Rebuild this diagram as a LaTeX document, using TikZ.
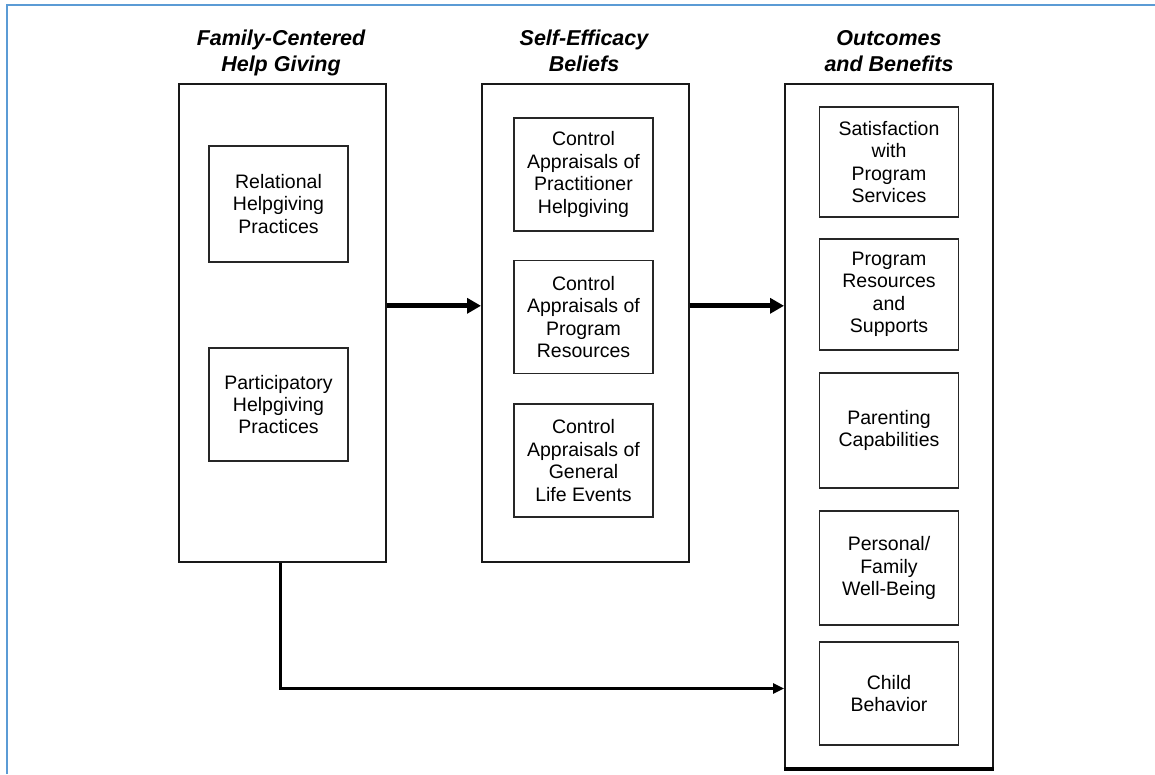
\documentclass[tikz,border=0pt]{standalone}
\usepackage{fontspec}
\setmainfont{Liberation Sans}
\usetikzlibrary{arrows.meta}
\definecolor{bleucadre}{HTML}{5B9BD5}
\begin{document}
\begin{tikzpicture}[x=1pt,y=-1pt]
% Styles
\tikzstyle{grandcadre}=[draw=black!90,line width=1.6pt,anchor=north west,inner sep=0pt]
\tikzstyle{boite}=[draw=black!85,line width=1.5pt,minimum width=\Lrg pt,align=center,inner sep=0pt,font=\fontsize{19.5}{22.4}\selectfont]
\tikzstyle{titre}=[anchor=north,align=center,inner sep=0pt,font=\fontsize{21.5}{26}\selectfont\bfseries\itshape]
\tikzstyle{fleche}=[-{Triangle[length=14pt,width=15pt]},line width=5pt]
\tikzstyle{lien}=[-{Triangle[length=11pt,width=10pt]},line width=2.5pt]
% Dimensions
\def\Lrg{139}
\def\HtG{478}
\def\Xg{281}
\def\Xm{584}
\def\Xd{889}
\useasboundingbox (0,0) rectangle (1155,774);
% Cadre bleu
\draw[bleucadre,line width=2.2pt] (7,774) -- (7,5) -- (1155,5);
% Grands cadres
\node[grandcadre,minimum width=207pt,minimum height=\HtG pt] (aide) at (178,83) {};
\node[grandcadre,minimum width=207pt,minimum height=\HtG pt] (croyances) at (481,83) {};
\node[grandcadre,minimum width=208pt,minimum height=685pt,line width=2pt] (resultats) at (784,83) {};
\draw[line width=4pt] ([yshift=1pt]resultats.south west) -- ([yshift=1pt]resultats.south east);
% Titres
\node[titre] (tg) at (\Xg,30) {Family-Centered\\Help Giving};
\node[titre] (tm) at (\Xm,30) {Self-Efficacy\\Beliefs};
\node[titre] (td) at (\Xd,30) {Outcomes\\and Benefits};
% Colonne de gauche
\node[boite,minimum height=116pt] (relation) at (278.5,204) {Relational\\Helpgiving\\Practices};
\node[boite,minimum height=113pt] (particip) at (278.5,404.5) {Participatory\\Helpgiving\\Practices};
% Colonne du milieu
\node[boite,minimum height=113pt] (praticien) at (583.5,174.5) {Control\\Appraisals of\\Practitioner\\Helpgiving};
\node[boite,minimum height=113pt] (programme) at (583.5,317) {Control\\Appraisals of\\Program\\Resources};
\node[boite,minimum height=113pt] (vie) at (583.5,460.5) {Control\\Appraisals of\\General\\Life Events};
% Colonne de droite
\node[boite,minimum height=110pt] (satisf) at (\Xd,162) {Satisfaction\\with\\Program\\Services};
\node[boite,minimum height=111pt] (ressources) at (\Xd,294.5) {Program\\Resources\\and\\Supports};
\node[boite,minimum height=115pt] (parent) at (\Xd,430.5) {Parenting\\Capabilities};
\node[boite,minimum height=114pt] (famille) at (\Xd,568) {Personal/\\Family\\Well-Being};
\node[boite,minimum height=103pt] (enfant) at (\Xd,693.5) {Child\\Behavior};
% Fleches
\draw[fleche] ([yshift=17pt]aide.east) -- ([yshift=17pt]croyances.west);
\draw[fleche] ([yshift=17pt]croyances.east) -- ([yshift=17pt]croyances.east -| resultats.west);
\path (resultats.west |- enfant.west) ++(0,-5) coordinate (entree);
\draw[lien] ([xshift=-2pt]aide.south) |- (entree);
\end{tikzpicture}
\end{document}
